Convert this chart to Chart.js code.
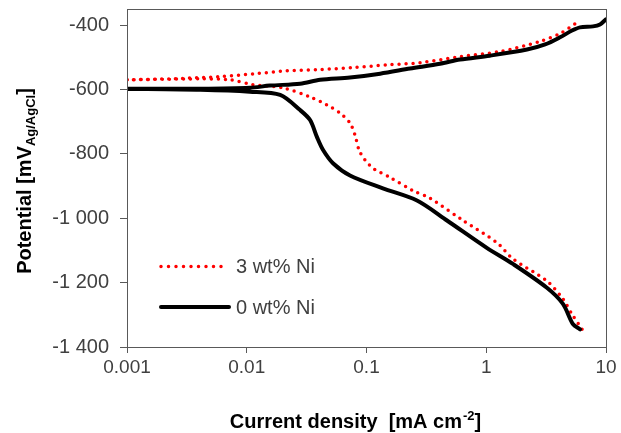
<!DOCTYPE html>
<html>
<head>
<meta charset="utf-8">
<script src="https://cdn.jsdelivr.net/npm/chart.js@4.4.1/dist/chart.umd.min.js"></script>
<style>
    html, body { margin: 0; padding: 0; background: #fff; }
</style>
</head>
<body>
<canvas id="myChart" width="621" height="433"></canvas>
<script>
// 0 wt% Ni : cathodic branch (from its end) then anodic branch
const currentNi0 = [6.07, 5.30, 4.37, 3.21, 1.67, 1.01, 0.470, 0.264, 0.137, 0.0728, 0.0525, 0.0434, 0.0386, 0.0338, 0.0279, 0.019, 0.0106, 0.0041, 0.001,
    0.0041, 0.0106, 0.0156, 0.0279, 0.041, 0.0728, 0.130, 0.231, 0.411, 0.604, 1.07, 2.19, 3.10, 4.13, 5.20, 6.07, 7.79, 8.91, 10];
const potentialNi0 = [-1345, -1329, -1266, -1216, -1142, -1092, -1007, -945, -907, -867, -829, -788, -748, -695, -664, -617, -607, -601, -598,
    -598, -595, -588, -582, -570, -563, -551, -535, -520, -507, -495, -476, -460, -438, -417, -407, -404, -398, -382];

// 3 wt% Ni
const currentNi3 = [6.31, 5.20, 4.37, 3.21, 1.67, 1.23, 0.640, 0.339, 0.244, 0.157, 0.111, 0.0883, 0.0802, 0.0728, 0.0601, 0.0468, 0.0338, 0.0201, 0.01127, 0.00724, 0.0041, 0.001,
    0.00229, 0.00598, 0.0117, 0.0217, 0.041, 0.0771, 0.157, 0.280, 0.604, 1.30, 2.81, 4.13, 5.00, 5.73];
const potentialNi3 = [-1345, -1298, -1251, -1195, -1126, -1076, -1007, -938, -914, -873, -842, -795, -742, -704, -673, -648, -623, -595, -585, -570, -567, -570,
    -567, -560, -551, -542, -538, -532, -523, -517, -498, -482, -451, -426, -407, -392];

const xTicks = [0.001, 0.01, 0.1, 1, 10];
const xTickLabels = ['0.001', '0.01', '0.1', '1', '10'];
const yTicks = [-1400, -1200, -1000, -800, -600, -400];

const legendLabels = ['3 wt% Ni', '0 wt% Ni'];

const fontFamily = "'Liberation Sans', Arial, sans-serif";
const axisColor = '#595959';
const labelColor = '#404040';

function toPoints(xs, ys) {
    return xs.map((x, i) => ({ x: x, y: ys[i] }));
}

function fmtThousands(v) {
    const s = Math.abs(v).toString();
    const t = s.length > 3 ? s.slice(0, -3) + ' ' + s.slice(-3) : s;
    return (v < 0 ? '-' : '') + t;
}

// box, titles with sub/superscript, legend
const decorPlugin = {
    id: 'decor',
    afterDraw(chart) {
        const ctx = chart.ctx;
        const a = chart.chartArea;
        ctx.save();
        ctx.strokeStyle = axisColor;
        ctx.lineWidth = 1;
        ctx.strokeRect(a.left + 0.5, a.top + 0.5, a.right - a.left, a.bottom - a.top);

        // x title
        ctx.fillStyle = '#000';
        ctx.textBaseline = 'alphabetic';
        const big = 'bold 20px ' + fontFamily;
        const small = 'bold 13px ' + fontFamily;
        ctx.font = big;
        const p1 = 'Current density  [mA cm';
        const w1 = ctx.measureText(p1).width;
        ctx.font = small;
        const w2 = ctx.measureText('-2').width;
        ctx.font = big;
        const w3 = ctx.measureText(']').width;
        let x0 = 355 - (w1 + w2 + w3) / 2;
        const by = 428;
        ctx.textAlign = 'left';
        ctx.fillText(p1, x0, by);
        ctx.font = small;
        ctx.fillText('-2', x0 + w1 + 1, by - 8);
        ctx.font = big;
        ctx.fillText(']', x0 + w1 + w2 + 1, by);

        // y title rotated
        ctx.save();
        ctx.translate(31, 181);
        ctx.rotate(-Math.PI / 2);
        ctx.font = big;
        const q1 = 'Potential [mV';
        const v1 = ctx.measureText(q1).width;
        ctx.font = small;
        const v2 = ctx.measureText('Ag/AgCl').width;
        ctx.font = big;
        const v3 = ctx.measureText(']').width;
        let s0 = -(v1 + v2 + v3) / 2;
        ctx.fillText(q1, s0, 0);
        ctx.font = small;
        ctx.fillText('Ag/AgCl', s0 + v1, 4);
        ctx.font = big;
        ctx.fillText(']', s0 + v1 + v2, 0);
        ctx.restore();

        // legend
        ctx.font = '20px ' + fontFamily;
        ctx.fillStyle = labelColor;
        ctx.textBaseline = 'middle';
        ctx.lineCap = 'round';
        ctx.strokeStyle = '#ff0000';
        ctx.lineWidth = 3.5;
        ctx.setLineDash([0, 7.5]);
        ctx.beginPath();
        ctx.moveTo(161, 266.5);
        ctx.lineTo(226, 266.5);
        ctx.stroke();
        ctx.setLineDash([]);
        ctx.strokeStyle = '#000';
        ctx.lineWidth = 4;
        ctx.beginPath();
        ctx.moveTo(161, 307);
        ctx.lineTo(229, 307);
        ctx.stroke();
        ctx.fillText(legendLabels[0], 236, 267);
        ctx.fillText(legendLabels[1], 236, 308);
        ctx.restore();
    }
};

const ctx = document.getElementById('myChart').getContext('2d');
new Chart(ctx, {
    type: 'line',
    data: {
        datasets: [
            {
                label: legendLabels[1],
                data: toPoints(currentNi0, potentialNi0),
                borderColor: '#000000',
                borderWidth: 4,
                pointRadius: 0,
                tension: 0.3,
                borderJoinStyle: 'round',
                borderCapStyle: 'round',
                fill: false
            },
            {
                label: legendLabels[0],
                data: toPoints(currentNi3, potentialNi3),
                borderColor: '#ff0000',
                borderWidth: 3.5,
                borderDash: [0, 7],
                borderCapStyle: 'round',
                pointRadius: 0,
                tension: 0.3,
                fill: false
            }
        ]
    },
    options: {
        responsive: false,
        animation: false,
        layout: { padding: { left: 0, right: 15, top: 9, bottom: 0 } },
        scales: {
            x: {
                type: 'logarithmic',
                min: 0.001,
                max: 10,
                afterBuildTicks: (axis) => { axis.ticks = xTicks.map(v => ({ value: v })); },
                afterFit: (axis) => { axis.height = 86; axis.paddingLeft = 0; axis.paddingRight = 0; },
                ticks: {
                    autoSkip: false,
                    maxRotation: 0,
                    padding: 3,
                    color: labelColor,
                    font: { family: fontFamily, size: 19 },
                    callback: (value) => {
                        const i = xTicks.findIndex(t => Math.abs(t - value) < value * 1e-6);
                        return i >= 0 ? xTickLabels[i] : '';
                    }
                },
                grid: { display: true, drawOnChartArea: false, drawTicks: true, tickLength: 6, color: axisColor },
                border: { display: true, color: axisColor, width: 1 }
            },
            y: {
                type: 'linear',
                min: -1400,
                max: -350,
                afterBuildTicks: (axis) => { axis.ticks = yTicks.map(v => ({ value: v })); },
                afterFit: (axis) => { axis.width = 127; axis.paddingTop = 0; axis.paddingBottom = 0; },
                ticks: {
                    padding: 11,
                    color: labelColor,
                    font: { family: fontFamily, size: 20 },
                    callback: (value) => fmtThousands(value)
                },
                grid: { display: true, drawOnChartArea: false, drawTicks: true, tickLength: 7, color: axisColor },
                border: { display: true, color: axisColor, width: 1 }
            }
        },
        plugins: {
            legend: { display: false },
            tooltip: { enabled: false }
        }
    },
    plugins: [decorPlugin]
});
</script>
</body>
</html>
